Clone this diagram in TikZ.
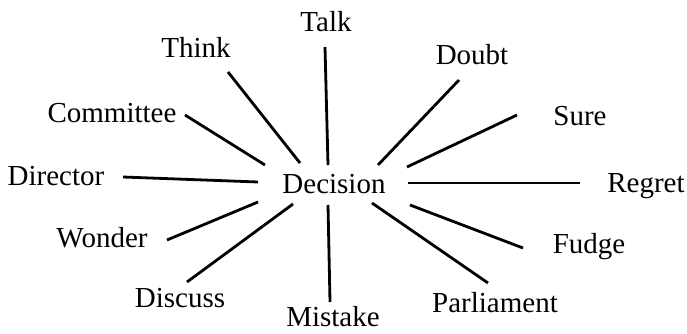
\documentclass[tikz,border=0pt]{standalone}
\usepackage{fontspec}
\setmainfont{Liberation Serif}
\begin{document}
\begin{tikzpicture}[x=1pt,y=-1pt,
  word/.style={anchor=base,inner sep=0pt,font=\fontsize{29}{34}\selectfont},
  spoke/.style={line width=2.8pt}]
\useasboundingbox (0,0) rectangle (687,334);
% words
\node[word] (decision) at (334,193) {Decision};
\node[word] (talk) at (326,32) {Talk};
\node[word] (think) at (196,58) {Think};
\node[word] (doubt) at (472,65) {Doubt};
\node[word] (committee) at (112,122) {Committee};
\node[word] (sure) at (580,125) {Sure};
\node[word] (director) at (56,185) {Director};
\node[word] (regret) at (646,192) {Regret};
\node[word] (wonder) at (102,247) {Wonder};
\node[word] (fudge) at (589,253) {Fudge};
\node[word] (discuss) at (180,307) {Discuss};
\node[word] (parliament) at (495,312) {Parliament};
\node[word] (mistake) at (333,326) {Mistake};
% spoke ends
\coordinate (talkO) at (325,47);   \coordinate (talkI) at (328,165);
\coordinate (thinkO) at (228,72);  \coordinate (thinkI) at (300,163);
\coordinate (commO) at (185,115);  \coordinate (commI) at (265,165);
\coordinate (doubtO) at (459,80);  \coordinate (doubtI) at (378,165);
\coordinate (sureO) at (517,115);  \coordinate (sureI) at (407,167);
\coordinate (dirO) at (123,177);   \coordinate (dirI) at (258,182);
\coordinate (regO) at (580,183);   \coordinate (regI) at (408,183);
\coordinate (wonO) at (167,240);   \coordinate (wonI) at (258,202);
\coordinate (fudO) at (523,248);   \coordinate (fudI) at (410,205);
\coordinate (disO) at (187,282);   \coordinate (disI) at (293,204);
\coordinate (misO) at (330,302);   \coordinate (misI) at (328,205);
\coordinate (parO) at (488,283);   \coordinate (parI) at (372,203);
% spokes
\draw[spoke] (talkO) -- (talkI);
\draw[spoke] (thinkO) -- (thinkI);
\draw[spoke] (commO) -- (commI);
\draw[spoke] (doubtO) -- (doubtI);
\draw[spoke] (sureO) -- (sureI);
\draw[spoke] (dirO) -- (dirI);
\draw[spoke] (regO) -- (regI);
\draw[spoke] (wonO) -- (wonI);
\draw[spoke] (fudO) -- (fudI);
\draw[spoke] (disO) -- (disI);
\draw[spoke] (misO) -- (misI);
\draw[spoke] (parO) -- (parI);
\end{tikzpicture}
\end{document}
